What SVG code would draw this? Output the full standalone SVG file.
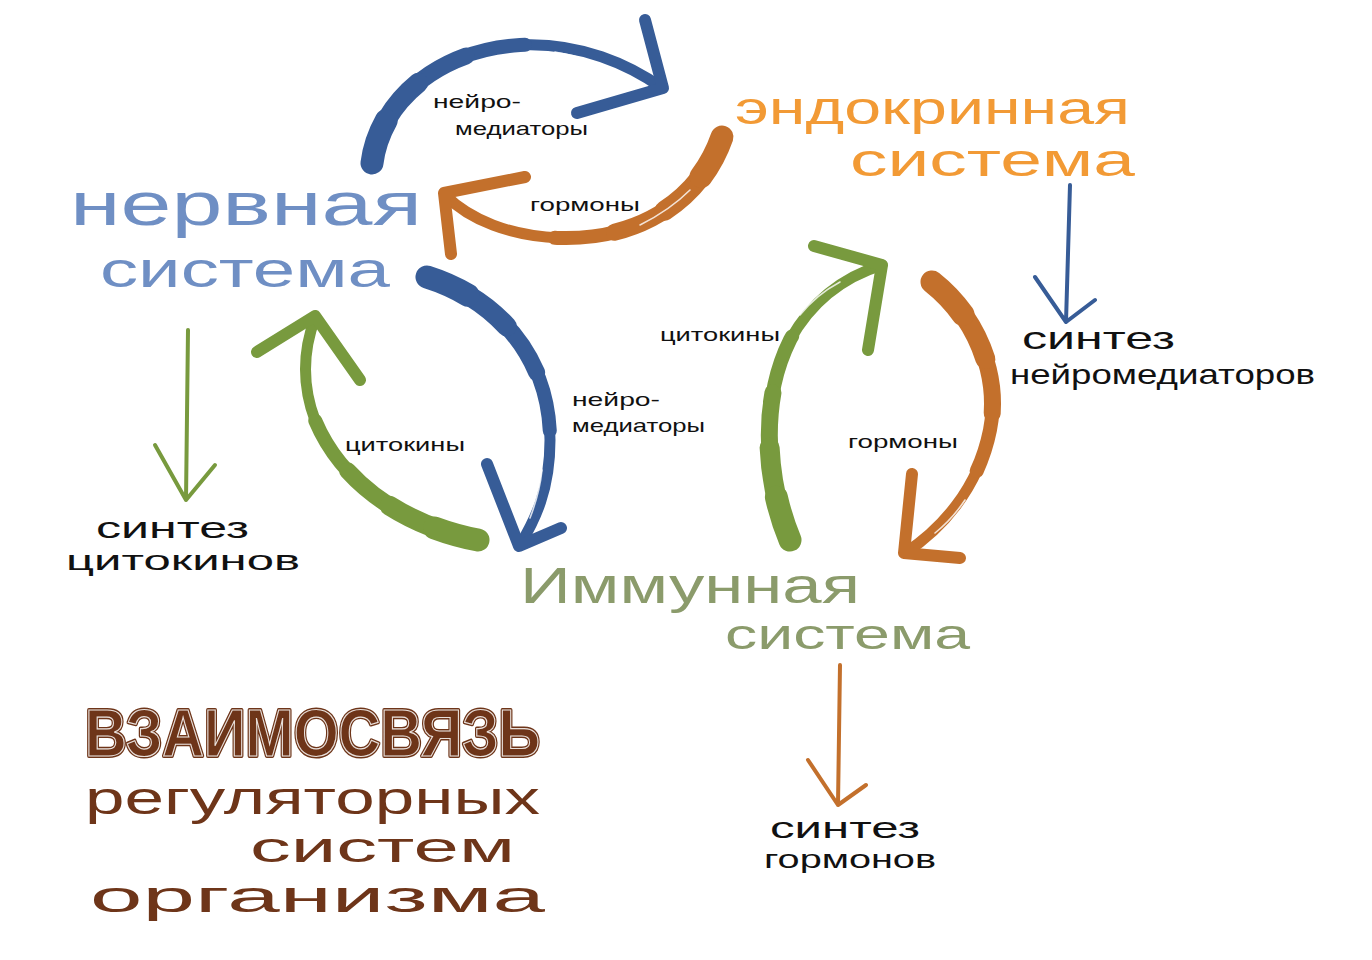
<svg xmlns="http://www.w3.org/2000/svg" width="1372" height="960" viewBox="0 0 1372 960">
<style>
.t{font-family:"Liberation Sans","DejaVu Sans",sans-serif;}
.lbl{font-family:"Liberation Sans","DejaVu Sans",sans-serif;font-size:19px;fill:#111;}
.syn{font-family:"Liberation Sans","DejaVu Sans",sans-serif;fill:#111;}
.br{fill:none;stroke-linecap:round;stroke-linejoin:round;}
.blue{stroke:#375c97;} .orange{stroke:#c3702c;} .green{stroke:#789a3e;}
.thin{stroke-width:4;}
.w1{stroke-width:11;}
.w2{stroke-width:14;stroke-dasharray:210 3000;}
.w3{stroke-width:17;stroke-dasharray:150 3000;}
.w4{stroke-width:20;stroke-dasharray:95 3000;}
.w5{stroke-width:23;stroke-dasharray:45 3000;}
.head{stroke-width:12;}
.hl{fill:none;stroke:#fff;stroke-width:1.6;stroke-linecap:round;opacity:0.8;}
</style>
<defs>
  <path id="s1" d="M372,163 C380,100 440,50 520,45 C580,42 630,65 662,88"/>
  <path id="s2" d="M722,137 C700,200 640,240 560,238 C510,236 470,220 445,195"/>
  <path id="s3" d="M427,277 C500,300 550,360 550,440 C550,490 535,520 520,545"/>
  <path id="s4" d="M478,540 C400,525 340,480 315,420 C300,380 305,345 315,318"/>
  <path id="s5" d="M790,540 C765,480 760,400 790,340 C815,295 850,275 882,265"/>
  <path id="s6" d="M932,282 C980,320 1000,380 990,430 C978,490 940,530 905,553"/>
</defs>
<rect width="1372" height="960" fill="#fff"/>
<g id="connectors">
  <g class="br blue"><use href="#s1" class="w1"/><use href="#s1" class="w2"/><use href="#s1" class="w3"/><use href="#s1" class="w4"/><use href="#s1" class="w5"/>
  <path class="head" d="M645,20 L663,88 L577,113"/></g>
  <path class="hl" d="M555,52 C585,57 605,66 620,74"/>
  <g class="br orange"><use href="#s2" class="w1"/><use href="#s2" class="w2"/><use href="#s2" class="w3"/><use href="#s2" class="w4"/><use href="#s2" class="w5"/>
  <path class="head" d="M525,177 L444,193 L451,254"/></g>
  <path class="hl" d="M690,190 C675,205 660,215 640,225"/>
  <g class="br blue"><use href="#s3" class="w1"/><use href="#s3" class="w2"/><use href="#s3" class="w3"/><use href="#s3" class="w4"/><use href="#s3" class="w5"/>
  <path class="head" d="M487,464 L519,546 L561,528"/></g>
  <path class="hl" d="M542,470 C540,490 535,505 530,518"/>
  <g class="br green"><use href="#s4" class="w1"/><use href="#s4" class="w2"/><use href="#s4" class="w3"/><use href="#s4" class="w4"/><use href="#s4" class="w5"/>
  <path class="head" d="M257,352 L315,316 L360,380"/></g>
  <g class="br green"><use href="#s5" class="w1"/><use href="#s5" class="w2"/><use href="#s5" class="w3"/><use href="#s5" class="w4"/><use href="#s5" class="w5"/>
  <path class="head" d="M814,246 L882,265 L868,350"/></g>
  <path class="hl" d="M800,315 C812,300 825,290 840,282"/>
  <g class="br orange"><use href="#s6" class="w1"/><use href="#s6" class="w2"/><use href="#s6" class="w3"/><use href="#s6" class="w4"/><use href="#s6" class="w5"/>
  <path class="head" d="M912,474 L904,553 L960,558"/></g>
  <path class="hl" d="M965,500 C955,515 945,525 935,533"/>
  <path class="br green thin" d="M188,330 L186,500 M155,445 L186,500 L215,465"/>
  <path class="br blue thin" d="M1070,185 L1066,322 M1035,277 L1066,322 L1095,300"/>
  <path class="br orange thin" d="M840,665 L838,805 M808,760 L838,805 L866,785"/>
  <text class="lbl" x="433" y="108" textLength="88" lengthAdjust="spacingAndGlyphs">нейро-</text>
  <text class="lbl" x="455" y="135" textLength="133" lengthAdjust="spacingAndGlyphs">медиаторы</text>
  <text class="lbl" x="530" y="211" textLength="110" lengthAdjust="spacingAndGlyphs">гормоны</text>
  <text class="lbl" x="572" y="406" textLength="88" lengthAdjust="spacingAndGlyphs">нейро-</text>
  <text class="lbl" x="572" y="432" textLength="133" lengthAdjust="spacingAndGlyphs">медиаторы</text>
  <text class="lbl" x="345" y="451" textLength="120" lengthAdjust="spacingAndGlyphs">цитокины</text>
  <text class="lbl" x="660" y="341" textLength="120" lengthAdjust="spacingAndGlyphs">цитокины</text>
  <text class="lbl" x="848" y="448" textLength="110" lengthAdjust="spacingAndGlyphs">гормоны</text>
</g>
<g id="nervous">
  <text class="t" x="70" y="225" font-size="62" fill="#6f8fc4" textLength="352" lengthAdjust="spacingAndGlyphs">нервная</text>
  <text class="t" x="100" y="287" font-size="50" fill="#6f8fc4" textLength="290" lengthAdjust="spacingAndGlyphs">система</text>
</g>
<g id="endocrine">
  <text class="t" x="735" y="124" font-size="46" fill="#f29a35" textLength="395" lengthAdjust="spacingAndGlyphs">эндокринная</text>
  <text class="t" x="850" y="176" font-size="46" fill="#f29a35" textLength="285" lengthAdjust="spacingAndGlyphs">система</text>
</g>
<g id="immune">
  <text class="t" x="520" y="603" font-size="50" fill="#8b9b6b" textLength="340" lengthAdjust="spacingAndGlyphs">Иммунная</text>
  <text class="t" x="725" y="649" font-size="42" fill="#8b9b6b" textLength="245" lengthAdjust="spacingAndGlyphs">система</text>
</g>
<g id="synth-neuro">
  <text class="syn" x="1022" y="349" font-size="32" textLength="153" lengthAdjust="spacingAndGlyphs">синтез</text>
  <text class="syn" x="1010" y="384" font-size="28" textLength="305" lengthAdjust="spacingAndGlyphs">нейромедиаторов</text>
</g>
<g id="synth-cyto">
  <text class="syn" x="96" y="538" font-size="30" textLength="153" lengthAdjust="spacingAndGlyphs">синтез</text>
  <text class="syn" x="66" y="570" font-size="28" textLength="234" lengthAdjust="spacingAndGlyphs">цитокинов</text>
</g>
<g id="synth-horm">
  <text class="syn" x="770" y="838" font-size="30" textLength="150" lengthAdjust="spacingAndGlyphs">синтез</text>
  <text class="syn" x="764" y="868" font-size="26" textLength="172" lengthAdjust="spacingAndGlyphs">гормонов</text>
</g>
<g id="title">
  <text class="t" x="85" y="756" font-size="66" font-weight="bold" fill="#6e3519" stroke="#6e3519" stroke-width="4" stroke-linejoin="round" textLength="455" lengthAdjust="spacingAndGlyphs">ВЗАИМОСВЯЗЬ</text>
  <text class="t" x="85" y="756" font-size="66" font-weight="bold" fill="none" stroke="#fff" stroke-width="1.2" opacity="0.85" textLength="455" lengthAdjust="spacingAndGlyphs">ВЗАИМОСВЯЗЬ</text>
  <text class="t" x="85" y="814" font-size="46" fill="#6e3519" textLength="455" lengthAdjust="spacingAndGlyphs">регуляторных</text>
  <text class="t" x="250" y="862" font-size="42" fill="#6e3519" textLength="265" lengthAdjust="spacingAndGlyphs">систем</text>
  <text class="t" x="90" y="912" font-size="44" fill="#6e3519" textLength="455" lengthAdjust="spacingAndGlyphs">организма</text>
</g>
</svg>
